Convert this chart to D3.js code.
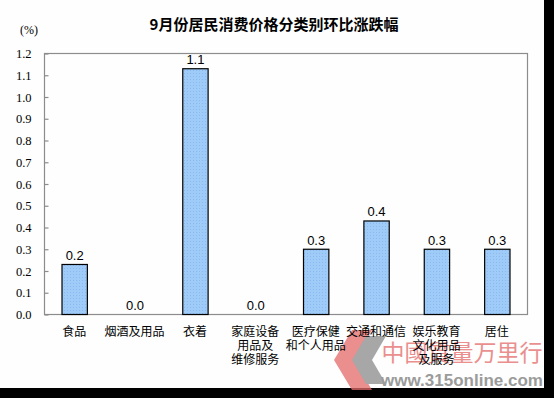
<!DOCTYPE html>
<html>
<head>
<meta charset="utf-8">
<script src="https://cdn.jsdelivr.net/npm/d3@7"></script>
<style>
  html, body { margin: 0; padding: 0; background: #000; }
  svg { display: block; }
</style>
</head>
<body>
<svg id="chart" width="554" height="398"></svg>
<script>
// chart data
const categories = [
  ["食品"],
  ["烟酒及用品"],
  ["衣着"],
  ["家庭设备", "用品及", "维修服务"],
  ["医疗保健", "和个人用品"],
  ["交通和通信"],
  ["娱乐教育", "文化用品", "及服务"],
  ["居住"]
];
const values = [0.23, 0.0, 1.13, 0.0, 0.30, 0.43, 0.30, 0.30];
const valueLabels = ["0.2", "0.0", "1.1", "0.0", "0.3", "0.4", "0.3", "0.3"];
const yTicks = [0, 0.1, 0.2, 0.3, 0.4, 0.5, 0.6, 0.7, 0.8, 0.9, 1.0, 1.1, 1.2];
const title = "9月份居民消费价格分类别环比涨跌幅";

const svg = d3.select("#chart");

// white canvas with the black strip on right / bottom
svg.append("rect")
  .attr("width", 544)
  .attr("height", 388)
  .attr("fill", "#fdfefd");

// dotted fill for the bars
const pat = svg.append("defs").append("pattern")
  .attr("id", "dots")
  .attr("width", 3)
  .attr("height", 3)
  .attr("patternUnits", "userSpaceOnUse");
pat.append("rect").attr("width", 3).attr("height", 3).attr("fill", "#9fcbf8");
pat.append("rect").attr("x", 1).attr("y", 1).attr("width", 1).attr("height", 1).attr("fill", "#8bb8ee");

const plot = { left: 44, top: 53, right: 527, bottom: 314 };

const xScale = d3.scaleBand()
  .domain(d3.range(categories.length))
  .range([plot.left, plot.right])
  .paddingInner(0.58)
  .paddingOuter(0.29);

const yScale = d3.scaleLinear()
  .domain([0, 1.2])
  .range([plot.bottom, plot.top]);

const barData = values.map((v, i) => ({ i, v, label: valueLabels[i] }));

// watermark (sits under the labels)
const wm = svg.append("g").attr("opacity", 0.75);
wm.append("path")
  .attr("d", "M372,330 L352,330 L334,360 L352,390 L372,390 L354,360 Z")
  .attr("fill", "#e46a6a");
wm.append("path")
  .attr("d", "M386,336 L366,336 L352,360 L366,384 L386,384 L372,360 Z")
  .attr("fill", "#8a8a8a");
wm.append("text")
  .attr("x", 462)
  .attr("y", 361)
  .attr("text-anchor", "middle")
  .attr("font-family", "'Noto Sans CJK SC', sans-serif")
  .attr("font-size", 23)
  .attr("fill", "#e46a6a")
  .text("中國質量万里行");
wm.append("text")
  .attr("x", 462)
  .attr("y", 386)
  .attr("text-anchor", "middle")
  .attr("font-family", "'Liberation Sans', Arial, sans-serif")
  .attr("font-size", 17)
  .attr("font-weight", "bold")
  .attr("fill", "#7a7a7a")
  .text("www.315online.com");

// frame
svg.append("rect")
  .attr("x", plot.left + 0.5)
  .attr("y", plot.top + 0.5)
  .attr("width", plot.right - plot.left)
  .attr("height", plot.bottom - plot.top)
  .attr("fill", "none")
  .attr("stroke", "#8c8c8c")
  .attr("stroke-width", 1.2);

// y axis, ticks pointing inward
const yAxis = d3.axisLeft(yScale)
  .tickValues(yTicks)
  .tickFormat(d3.format(".1f"))
  .tickSizeInner(-4)
  .tickSizeOuter(0)
  .tickPadding(13);

const yG = svg.append("g")
  .attr("transform", `translate(${plot.left + 0.5},0.5)`)
  .call(yAxis);
yG.select(".domain").remove();
yG.selectAll("line").attr("stroke", "#8c8c8c").attr("stroke-width", 1.2);
yG.selectAll("text")
  .attr("font-family", "'Liberation Serif', 'Times New Roman', serif")
  .attr("font-size", 12.5)
  .attr("fill", "#000");

svg.append("text")
  .attr("x", 29)
  .attr("y", 34)
  .attr("text-anchor", "middle")
  .attr("font-family", "'Liberation Serif', serif")
  .attr("font-size", 12)
  .text("(%)");

// title
svg.append("text")
  .attr("x", 274)
  .attr("y", 30)
  .attr("text-anchor", "middle")
  .attr("font-family", "'Noto Sans CJK SC', sans-serif")
  .attr("font-size", 15)
  .attr("font-weight", "bold")
  .text(title);

// bars (zero values draw nothing)
svg.append("g")
  .selectAll("rect")
  .data(barData.filter(d => d.v > 0))
  .join("rect")
  .attr("x", d => xScale(d.i) + 0.5)
  .attr("y", d => yScale(d.v) + 0.5)
  .attr("width", xScale.bandwidth())
  .attr("height", d => yScale(0) - yScale(d.v))
  .attr("fill", "url(#dots)")
  .attr("stroke", "#000")
  .attr("stroke-width", 1.2);

// value labels
svg.append("g")
  .selectAll("text")
  .data(barData)
  .join("text")
  .attr("x", d => xScale(d.i) + xScale.bandwidth() / 2 + 0.5)
  .attr("y", d => yScale(d.v) - 4)
  .attr("text-anchor", "middle")
  .attr("font-family", "'Liberation Sans', Arial, sans-serif")
  .attr("font-size", 13)
  .text(d => d.label);

// category labels
const catG = svg.append("g")
  .selectAll("text")
  .data(categories)
  .join("text")
  .attr("x", (d, i) => xScale(i) + xScale.bandwidth() / 2)
  .attr("y", 336)
  .attr("text-anchor", "middle")
  .attr("font-family", "'Noto Sans CJK SC', sans-serif")
  .attr("font-size", 12);
catG.selectAll("tspan")
  .data(d => d)
  .join("tspan")
  .attr("x", function () { return d3.select(this.parentNode).attr("x"); })
  .attr("dy", (d, i) => (i === 0 ? 0 : 14))
  .text(d => d);
</script>
</body>
</html>
